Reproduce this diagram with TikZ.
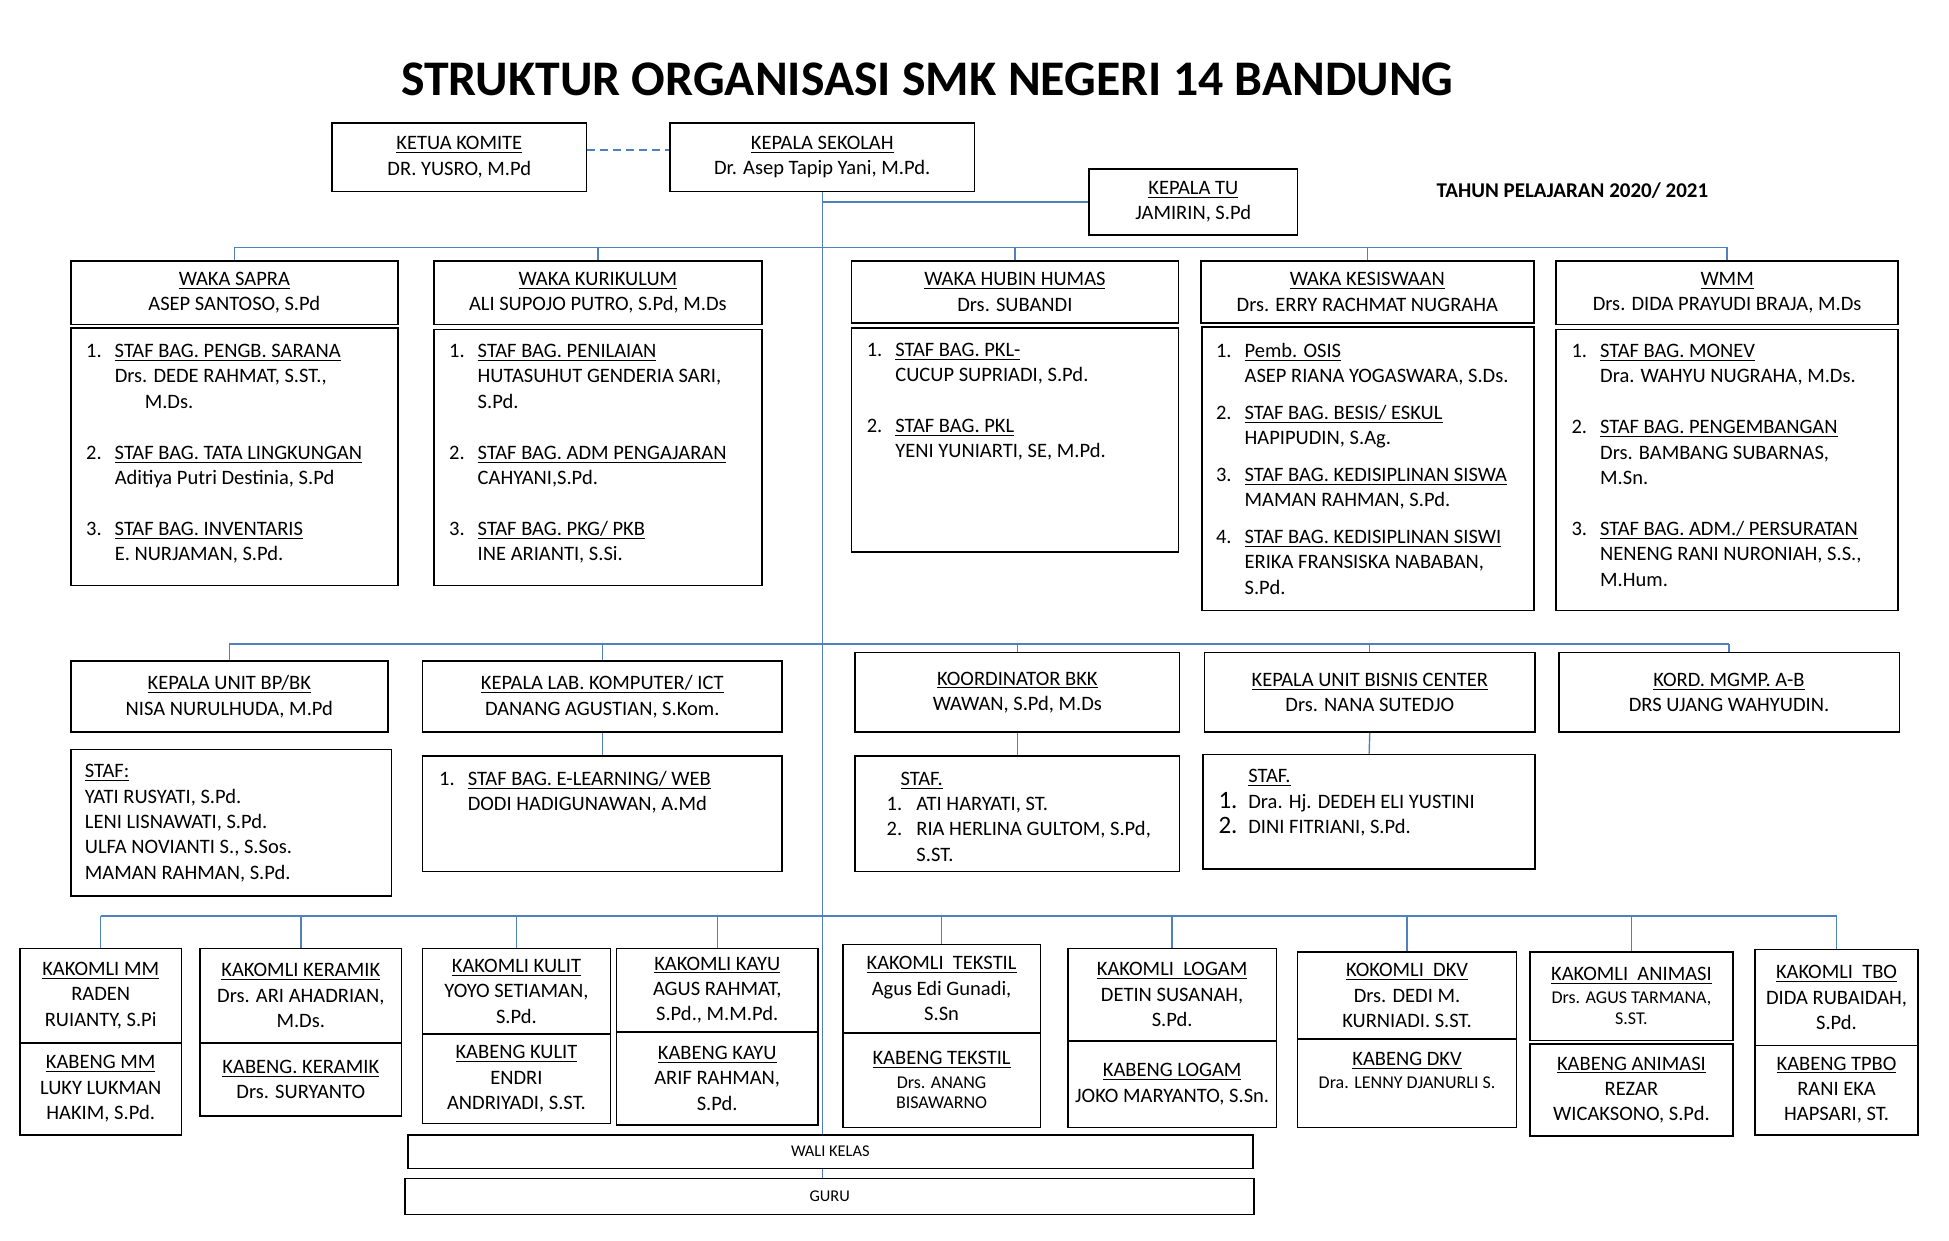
\documentclass[tikz,border=0pt]{standalone}
\usepackage{fontspec}
\setmainfont{Carlito}
\usepackage{tikz}
\definecolor{linkblue}{RGB}{79,129,189}
\newcommand{\ux}{0.6215pt}
\newcommand{\orgfont}{\fontsize{10.25}{12.7}\selectfont}
\newcommand{\smallfont}{\fontsize{9}{10.5}\selectfont}
\newcommand{\tinyfont}{\fontsize{8.2}{10}\selectfont}
\newcommand{\ttl}[1]{\underline{\raisebox{0pt}[\height][0pt]{#1}}}
% box from corner (x1,y1) to corner (x2,y2), text centred
\newcommand{\orgbox}[6]{\node[box, minimum width={(#4-#2)*\ux}, minimum height={(#5-#3)*\ux}] (#1) at ({(#2+#4)/2},{(#3+#5)/2}) {#6};}

\begin{document}
\begin{tikzpicture}[x=\ux, y=-\ux]
  \tikzset{every node/.style={font=\orgfont},
    box/.style={draw, line width=0.8pt, align=center, inner sep=0pt},
    listtext/.style={anchor=north west, inner sep=0pt, align=left},
    link/.style={draw=linkblue, line width=0.7pt},
    dashlink/.style={link, dash pattern=on 4pt off 2.5pt}}
  \useasboundingbox (0,0) rectangle (1568,998);

  % title
  \node[font=\fontsize{24.9}{30}\selectfont\bfseries] (title) at (746,64) {STRUKTUR ORGANISASI SMK NEGERI 14 BANDUNG};
  \node[font=\fontsize{10.5}{12.7}\selectfont\bfseries] (tahun) at (1265,153) {TAHUN PELAJARAN 2020/ 2021};

  % top
  \orgbox{komite}{267}{99}{472}{154}{\ttl{KETUA KOMITE}\\DR. YUSRO, M.Pd}
  \orgbox{kepsek}{539}{99}{784}{154}{\ttl{KEPALA SEKOLAH}\\Dr. Asep Tapip Yani, M.Pd.}
  \orgbox{tu}{876}{136}{1044}{189}{\ttl{KEPALA TU}\\JAMIRIN, S.Pd}

  % wakil kepala
  \orgbox{sapra}{57}{210}{320}{261}{\ttl{WAKA SAPRA}\\ASEP SANTOSO, S.Pd}
  \orgbox{kurikulum}{349}{210}{613}{261}{\ttl{WAKA KURIKULUM}\\ALI SUPOJO PUTRO, S.Pd, M.Ds}
  \orgbox{hubin}{685}{210}{948}{260}{\ttl{WAKA HUBIN HUMAS}\\Drs. SUBANDI}
  \orgbox{kesiswaan}{966}{210}{1234}{260}{\ttl{WAKA KESISWAAN}\\Drs. ERRY RACHMAT NUGRAHA}
  \orgbox{wmm}{1252}{210}{1527}{261}{\ttl{WMM}\\Drs. DIDA PRAYUDI BRAJA, M.Ds}

  \orgbox{sapraS}{57}{264}{320}{471}{}
  \orgbox{kurikulumS}{349}{265}{613}{471}{}
  \orgbox{hubinS}{685}{264}{948}{444}{}
  \orgbox{kesiswaanS}{967}{263}{1234}{491}{}
  \orgbox{wmmS}{1252}{265}{1527}{491}{}

  \node[listtext] (sapraT) at (69,273) {\begin{tabular}{@{}p{14.3pt}@{}l@{}}
    1. & \ttl{STAF BAG. PENGB. SARANA}\\
       & Drs. DEDE RAHMAT, S.ST.,\\
       & \hspace{15pt}M.Ds.\\
       & \\
    2. & \ttl{STAF BAG. TATA LINGKUNGAN}\\
       & Aditiya Putri Destinia, S.Pd\\
       & \\
    3. & \ttl{STAF BAG. INVENTARIS}\\
       & E. NURJAMAN, S.Pd.
  \end{tabular}};
  \node[listtext] (kurikulumT) at (361,273) {\begin{tabular}{@{}p{14.3pt}@{}l@{}}
    1. & \ttl{STAF BAG. PENILAIAN}\\
       & HUTASUHUT GENDERIA SARI,\\
       & S.Pd.\\
       & \\
    2. & \ttl{STAF BAG. ADM PENGAJARAN}\\
       & CAHYANI,S.Pd.\\
       & \\
    3. & \ttl{STAF BAG. PKG/ PKB}\\
       & INE ARIANTI, S.Si.
  \end{tabular}};
  \node[listtext] (hubinT) at (697,272) {\begin{tabular}{@{}p{14.3pt}@{}l@{}}
    1. & \ttl{STAF BAG. PKL-}\\
       & CUCUP SUPRIADI, S.Pd.\\
       & \\
    2. & \ttl{STAF BAG. PKL}\\
       & YENI YUNIARTI, SE, M.Pd.
  \end{tabular}};
  \node[listtext] (kesiswaanT) at (978,273) {\begin{tabular}{@{}p{14.3pt}@{}l@{}}
    1. & \ttl{Pemb. OSIS}\\
       & ASEP RIANA YOGASWARA, S.Ds.\\[5.6pt]
    2. & \ttl{STAF BAG. BESIS/ ESKUL}\\
       & HAPIPUDIN, S.Ag.\\[5.6pt]
    3. & \ttl{STAF BAG. KEDISIPLINAN SISWA}\\
       & MAMAN RAHMAN, S.Pd.\\[5.6pt]
    4. & \ttl{STAF BAG. KEDISIPLINAN SISWI}\\
       & ERIKA FRANSISKA NABABAN,\\
       & S.Pd.
  \end{tabular}};
  \node[listtext] (wmmT) at (1264,273) {\begin{tabular}{@{}p{14.3pt}@{}l@{}}
    1. & \ttl{STAF BAG. MONEV}\\
       & Dra. WAHYU NUGRAHA, M.Ds.\\
       & \\
    2. & \ttl{STAF BAG. PENGEMBANGAN}\\
       & Drs. BAMBANG SUBARNAS,\\
       & M.Sn.\\
       & \\
    3. & \ttl{STAF BAG. ADM./ PERSURATAN}\\
       & NENENG RANI NURONIAH, S.S.,\\
       & M.Hum.
  \end{tabular}};

  % unit
  \orgbox{bpbk}{57}{532}{312}{589}{\ttl{KEPALA UNIT BP/BK}\\NISA NURULHUDA, M.Pd}
  \orgbox{lab}{340}{532}{629}{589}{\ttl{KEPALA LAB. KOMPUTER/ ICT}\\DANANG AGUSTIAN, S.Kom.}
  \orgbox{bkk}{688}{525}{949}{589}{\ttl{KOORDINATOR BKK}\\WAWAN, S.Pd, M.Ds}
  \orgbox{bisnis}{969}{525}{1235}{589}{\ttl{KEPALA UNIT BISNIS CENTER}\\Drs. NANA SUTEDJO}
  \orgbox{mgmp}{1254}{525}{1528}{589}{\ttl{KORD. MGMP. A-B}\\DRS UJANG WAHYUDIN.}

  \orgbox{bpbkS}{57}{603}{315}{721}{}
  \orgbox{labS}{340}{608}{629}{701}{}
  \orgbox{bkkS}{688}{608}{949}{701}{}
  \orgbox{bisnisS}{968}{607}{1235}{699}{}

  \node[listtext] (bpbkT) at (68,611) {\begin{tabular}{@{}l@{}}
    \ttl{STAF:}\\
    YATI RUSYATI, S.Pd.\\
    LENI LISNAWATI, S.Pd.\\
    ULFA NOVIANTI S., S.Sos.\\
    MAMAN RAHMAN, S.Pd.
  \end{tabular}};
  \node[listtext] (labT) at (353,617) {\begin{tabular}{@{}p{14.3pt}@{}l@{}}
    1. & \ttl{STAF BAG. E-LEARNING/ WEB}\\
       & DODI HADIGUNAWAN, A.Md
  \end{tabular}};
  \node[listtext] (bkkT) at (713,617) {\begin{tabular}{@{}p{14.9pt}@{}l@{}}
    \multicolumn{2}{@{}l@{}}{\hspace{7pt}\ttl{STAF.}}\\
    1. & ATI HARYATI, ST.\\
    2. & RIA HERLINA GULTOM, S.Pd,\\
       & S.ST.
  \end{tabular}};
  \node[listtext] (bisnisT) at (980,615) {\begin{tabular}{@{}p{14.9pt}@{}l@{}}
       & \ttl{STAF.}\\
    {\fontsize{12.5}{12.7}\selectfont 1.} & Dra. Hj. DEDEH ELI YUSTINI\\
    {\fontsize{12.5}{12.7}\selectfont 2.} & DINI FITRIANI, S.Pd.
  \end{tabular}};

  % kompetensi keahlian
  \orgbox{mm}{16}{763}{146}{839}{\ttl{KAKOMLI MM}\\RADEN\\RUIANTY, S.Pi}
  \orgbox{mmB}{16}{839}{146}{913}{\ttl{KABENG MM}\\LUKY LUKMAN\\HAKIM, S.Pd.}
  \orgbox{keramik}{161}{763}{323}{839}{\ttl{KAKOMLI KERAMIK}\\Drs. ARI AHADRIAN,\\M.Ds.}
  \orgbox{keramikB}{161}{839}{323}{898}{\ttl{KABENG. KERAMIK}\\Drs. SURYANTO}
  \orgbox{kulit}{340}{763}{491}{832}{\ttl{KAKOMLI KULIT}\\YOYO SETIAMAN,\\S.Pd.}
  \orgbox{kulitB}{340}{832}{491}{904}{\ttl{KABENG KULIT}\\ENDRI\\ANDRIYADI, S.ST.}
  \orgbox{kayu}{496}{763}{658}{830}{\ttl{KAKOMLI KAYU}\\AGUS RAHMAT,\\S.Pd., M.M.Pd.}
  \orgbox{kayuB}{496}{830}{658}{905}{\ttl{KABENG KAYU}\\ARIF RAHMAN,\\S.Pd.}
  \orgbox{tekstil}{678}{760}{837}{831}{\ttl{KAKOMLI\ \ TEKSTIL}\\Agus Edi Gunadi,\\S.Sn}
  \orgbox{tekstilB}{678}{831}{837}{907}{\ttl{KABENG TEKSTIL}\\[-1pt]{\smallfont Drs. ANANG}\\[-2.5pt]{\smallfont BISAWARNO}}
  \orgbox{logam}{859}{763}{1027}{837.5}{\ttl{KAKOMLI\ \ LOGAM}\\DETIN SUSANAH,\\S.Pd.}
  \orgbox{logamB}{859}{837.5}{1027}{907}{\ttl{KABENG LOGAM}\\JOKO MARYANTO, S.Sn.}
  \orgbox{dkv}{1044}{766}{1220}{836}{\ttl{KOKOMLI\ \ DKV}\\Drs. DEDI M.\\KURNIADI. S.ST.}
  \orgbox{dkvB}{1044}{836}{1220}{907}{\ttl{KABENG DKV}\\[-1pt]{\smallfont Dra. LENNY DJANURLI S.}\\ \mbox{}}
  \orgbox{animasi}{1231}{766}{1394}{837}{\ttl{KAKOMLI\ \ ANIMASI}\\[-1.3pt]{\smallfont Drs. AGUS TARMANA,}\\[-2.1pt]{\smallfont S.ST.}}
  \orgbox{animasiB}{1231}{840}{1394}{914}{\ttl{KABENG ANIMASI}\\REZAR\\WICAKSONO, S.Pd.}
  \orgbox{tbo}{1412}{764}{1543}{841}{\ttl{KAKOMLI\ \ TBO}\\DIDA RUBAIDAH,\\S.Pd.}
  \orgbox{tboB}{1412}{841}{1543}{913}{\ttl{KABENG TPBO}\\RANI EKA\\HAPSARI, ST.}

  \orgbox{wali}{328}{913}{1008}{940}{\tinyfont WALI KELAS}
  \orgbox{guru}{326}{948}{1009}{977}{\tinyfont GURU}

  % connectors
  \coordinate (bus1) at (0,199);
  \coordinate (bus2) at (0,518);
  \coordinate (bus3) at (0,737);
  \draw[dashlink] ([yshift=3.7pt]komite.east) -- ([yshift=3.7pt]kepsek.west);
  \draw[link] (kepsek.south) -- (kepsek.south |- wali.north);
  \draw[link] (kepsek.south |- wali.south) -- (kepsek.south |- guru.north);
  \draw[link] (kepsek.south |- tu.west) -- (tu.west);
  \draw[link] (sapra.north |- bus1) -- (wmm.north |- bus1);
  \foreach \n in {sapra,kurikulum,hubin,kesiswaan,wmm}
    \draw[link] (\n.north |- bus1) -- (\n.north);
  \draw[link] (bpbk.north |- bus2) -- (mgmp.north |- bus2);
  \foreach \n in {bpbk,lab,bkk,bisnis,mgmp}
    \draw[link] (\n.north |- bus2) -- (\n.north);
  \foreach \n in {lab,bkk,bisnis}
    \draw[link] (\n.south) -- (\n S.north);
  \draw[link] (mm.north |- bus3) -- (tbo.north |- bus3);
  \foreach \n in {mm,keramik,kulit,kayu,tekstil,logam,dkv,animasi,tbo}
    \draw[link] (\n.north |- bus3) -- (\n.north);
\end{tikzpicture}
\end{document}
